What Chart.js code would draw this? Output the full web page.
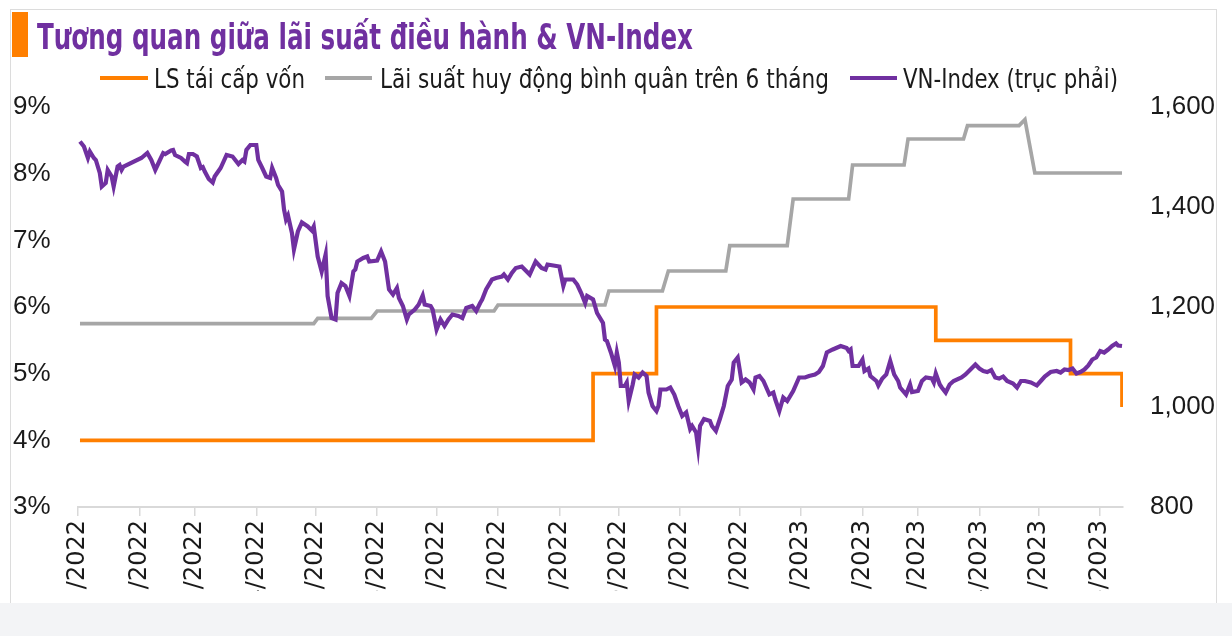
<!DOCTYPE html>
<html>
<head>
<meta charset="utf-8">
<script src="https://cdn.jsdelivr.net/npm/chart.js@4.4.0/dist/chart.umd.min.js"></script>
<style>
html,body{margin:0;padding:0;background:#fff;}
#wrap{position:relative;width:1232px;height:636px;overflow:hidden;background:#fff;}
#frame{position:absolute;left:10px;top:9px;width:1207px;height:700px;border:1px solid #dcdcdc;box-sizing:border-box;}
#accent{position:absolute;left:12px;top:12px;width:16px;height:45px;background:#ff7f00;}
.txt{position:absolute;white-space:nowrap;transform-origin:0 0;line-height:1;
  font-family:"Liberation Sans Narrow","DejaVu Sans Condensed","Roboto Condensed","Liberation Sans",sans-serif;}
#title{left:37px;top:19px;font-size:36px;font-weight:bold;color:#7030a0;}
.leg{top:65px;font-size:27px;color:#1a1a1a;}
.sw{position:absolute;height:4px;top:76px;}
#band{position:absolute;left:0;top:603px;width:1232px;height:33px;background:#f3f4f6;}
#c{position:absolute;left:0;top:0;}
</style>
</head>
<body>
<div id="wrap">
  <div id="frame"></div>
  <canvas id="c" width="1232" height="591"></canvas>
  <div id="accent"></div>
  <div id="title" class="txt" data-w="656">Tương quan giữa lãi suất điều hành &amp; VN-Index</div>
  <div class="sw" style="left:100px;width:48px;background:#ff7f00"></div>
  <div class="txt leg" style="left:154px" data-w="151">LS tái cấp vốn</div>
  <div class="sw" style="left:325px;width:47px;background:#a6a6a6"></div>
  <div class="txt leg" style="left:380px" data-w="449">Lãi suất huy động bình quân trên 6 tháng</div>
  <div class="sw" style="left:850px;width:47px;background:#7030a0"></div>
  <div class="txt leg" style="left:903px" data-w="215">VN-Index (trục phải)</div>
  <div id="band"></div>
</div>
<script>
// x values are days counted from 01/01/2022
const monthTicks = [0,31,59,90,120,151,181,212,243,273,304,334,365,396,424,455,485,516];
const monthLabels = ['01/01/2022','01/02/2022','01/03/2022','01/04/2022','01/05/2022','01/06/2022',
  '01/07/2022','01/08/2022','01/09/2022','01/10/2022','01/11/2022','01/12/2022',
  '01/01/2023','01/02/2023','01/03/2023','01/04/2023','01/05/2023','01/06/2023'];

// LS tái cấp vốn (%), change points
const refiDays  = [1, 260, 292, 433, 501, 527];
const refiRates = [4.0, 5.0, 6.0, 5.5, 5.0, 4.5];

// Lãi suất huy động bình quân trên 6 tháng (%)
const depDays  = [1,119,121,148,151,210,212,266,268,295,298,327,329,358,361,389,391,417,419,447,449,475,478,483,527];
const depRates = [5.75,5.75,5.83,5.83,5.94,5.94,6.03,6.03,6.24,6.24,6.54,6.54,6.92,6.92,7.62,7.62,8.13,8.13,8.52,8.52,8.72,8.72,8.81,8.01,8.01];

// VN-Index (right axis)
const vnDays = [1,3,5,6,8,9,11,12,14,15,17,18,20,21,22,23,32,35,37,39,41,43,44,47,48,49,52,54,55,56,58,60,62,63,64,66,68,69,72,75,78,81,83,84,85,87,90,91,93,95,97,98,100,101,103,104,105,106,108,109,111,113,116,118,119,121,123,125,126,128,130,131,133,135,137,139,140,141,144,146,147,151,153,155,157,159,161,162,164,166,167,170,172,174,175,178,179,181,183,185,187,189,192,194,196,199,201,203,204,206,209,211,214,215,217,219,221,224,228,231,234,236,237,243,245,246,250,252,254,256,257,260,262,265,266,267,269,271,272,273,274,276,277,278,280,281,283,285,287,288,290,292,293,294,297,299,301,303,305,307,309,310,312,313,314,316,319,320,322,324,326,328,330,331,333,334,335,337,339,341,342,344,346,349,351,352,354,356,358,361,364,367,369,372,374,376,378,381,385,388,389,390,391,394,396,397,399,400,403,404,406,408,410,412,414,415,418,420,421,424,426,428,431,432,433,435,436,438,440,442,446,448,451,453,455,457,459,461,463,465,467,469,472,474,476,478,481,484,486,488,491,494,496,498,500,502,504,506,508,510,512,514,516,518,520,522,524,525,527];
const vnIndex = [1531,1521,1498,1511,1498,1494,1468,1441,1448,1474,1461,1441,1481,1484,1474,1481,1498,1508,1494,1474,1491,1508,1506,1513,1514,1504,1498,1491,1488,1506,1506,1501,1478,1480,1471,1456,1449,1461,1478,1504,1501,1486,1494,1491,1514,1524,1524,1494,1478,1461,1458,1478,1458,1444,1431,1395,1375,1383,1348,1315,1351,1369,1361,1353,1361,1301,1271,1305,1222,1178,1175,1228,1248,1242,1222,1271,1275,1291,1298,1301,1291,1293,1311,1291,1235,1225,1238,1218,1202,1175,1185,1195,1205,1223,1205,1202,1195,1155,1175,1162,1175,1185,1182,1178,1198,1202,1192,1208,1215,1235,1255,1258,1261,1265,1255,1268,1278,1281,1265,1291,1278,1275,1285,1281,1242,1255,1255,1245,1228,1208,1222,1215,1188,1168,1135,1132,1109,1082,1109,1089,1042,1042,1049,1012,1045,1065,1059,1069,1062,1029,1002,992,1002,1035,1035,1039,1025,1002,982,989,956,962,949,919,962,976,972,962,952,976,1002,1042,1055,1089,1099,1075,1049,1055,1049,1035,1059,1062,1052,1025,1029,1015,992,1019,1012,1032,1059,1059,1062,1065,1070,1082,1109,1115,1122,1118,1112,1115,1082,1082,1095,1072,1077,1062,1052,1043,1057,1065,1092,1065,1052,1039,1025,1045,1030,1032,1052,1059,1057,1049,1067,1045,1039,1029,1045,1052,1059,1065,1077,1085,1077,1072,1070,1074,1059,1057,1061,1052,1047,1039,1052,1052,1049,1043,1052,1061,1070,1072,1069,1075,1074,1077,1067,1070,1075,1083,1095,1099,1112,1109,1115,1122,1127,1123,1122];

const leftTicks = [3,4,5,6,7,8,9];
const rightTicks = [800,1000,1200,1400,1600];

const pts = (xs, ys) => xs.map((x, i) => ({x: x, y: ys[i]}));

const TARGET = {left:78, right:1123, top:107, bottom:507};
const H = 591;
const pad = {left:13, right:0, top:94, bottom:0};

const axisFont = {family:'"Liberation Sans", Arial, sans-serif', size:26};
const chart = new Chart(document.getElementById('c'), {
  type: 'line',
  data: {
    datasets: [
      {label:'VN-Index (trục phải)', data: pts(vnDays, vnIndex), yAxisID:'y1', borderColor:'#7030a0', borderWidth:4.2, pointRadius:0, tension:0, order:0},
      {label:'LS tái cấp vốn', data: pts(refiDays, refiRates), yAxisID:'y', borderColor:'#ff7f00', borderWidth:3.7, pointRadius:0, stepped:'before', order:1},
      {label:'Lãi suất huy động bình quân trên 6 tháng', data: pts(depDays, depRates), yAxisID:'y', borderColor:'#a6a6a6', borderWidth:3.7, pointRadius:0, tension:0, order:2}
    ]
  },
  options: {
    responsive:false, animation:false, devicePixelRatio:1,
    layout:{padding:pad},
    plugins:{legend:{display:false}, tooltip:{enabled:false}},
    scales:{
      x:{type:'linear', min:0, max:527.5,
        afterBuildTicks:(s)=>{ s.ticks = monthTicks.map(v=>({value:v})); },
        afterFit:(s)=>{ s.height = H - TARGET.bottom; },
        ticks:{autoSkip:false, minRotation:90, maxRotation:90, padding:4, color:'#1a1a1a',
          font:{family:'"DejaVu Sans", sans-serif', size:24},
          callback:(v)=>{ const i = monthTicks.indexOf(v); return i>=0 ? monthLabels[i] : ''; }},
        grid:{drawOnChartArea:false, drawTicks:true, tickLength:9, color:'#d9d9d9', lineWidth:1.5},
        border:{display:true, color:'#d9d9d9', width:2}
      },
      y:{position:'left', min:3, max:9,
        afterBuildTicks:(s)=>{ s.ticks = leftTicks.map(v=>({value:v})); },
        afterFit:(s)=>{ s.width = TARGET.left - pad.left; },
        ticks:{crossAlign:'far', padding:0, color:'#1a1a1a', font:axisFont, callback:(v)=>v+'%'},
        grid:{display:false, drawTicks:false}, border:{display:false}
      },
      y1:{position:'right', min:800, max:1600,
        afterBuildTicks:(s)=>{ s.ticks = rightTicks.map(v=>({value:v})); },
        afterFit:(s)=>{ s.width = 1232 - TARGET.right - pad.right; },
        ticks:{padding:27, color:'#1a1a1a', font:axisFont, callback:(v)=>v.toLocaleString('en-US')},
        grid:{display:false, drawTicks:false}, border:{display:false}
      }
    }
  }
});

for (let k = 0; k < 3; k++) {
  const ca = chart.chartArea;
  const dt = TARGET.top - ca.top;
  if (Math.abs(dt) < 0.5) break;
  chart.options.layout.padding.top += dt;
  chart.update('none');
}

// fit header texts to their measured widths
document.querySelectorAll('.txt[data-w]').forEach(el => {
  const w = el.getBoundingClientRect().width;
  el.style.transform = 'scaleX(' + (parseFloat(el.dataset.w) / w) + ')';
});
</script>
</body>
</html>
